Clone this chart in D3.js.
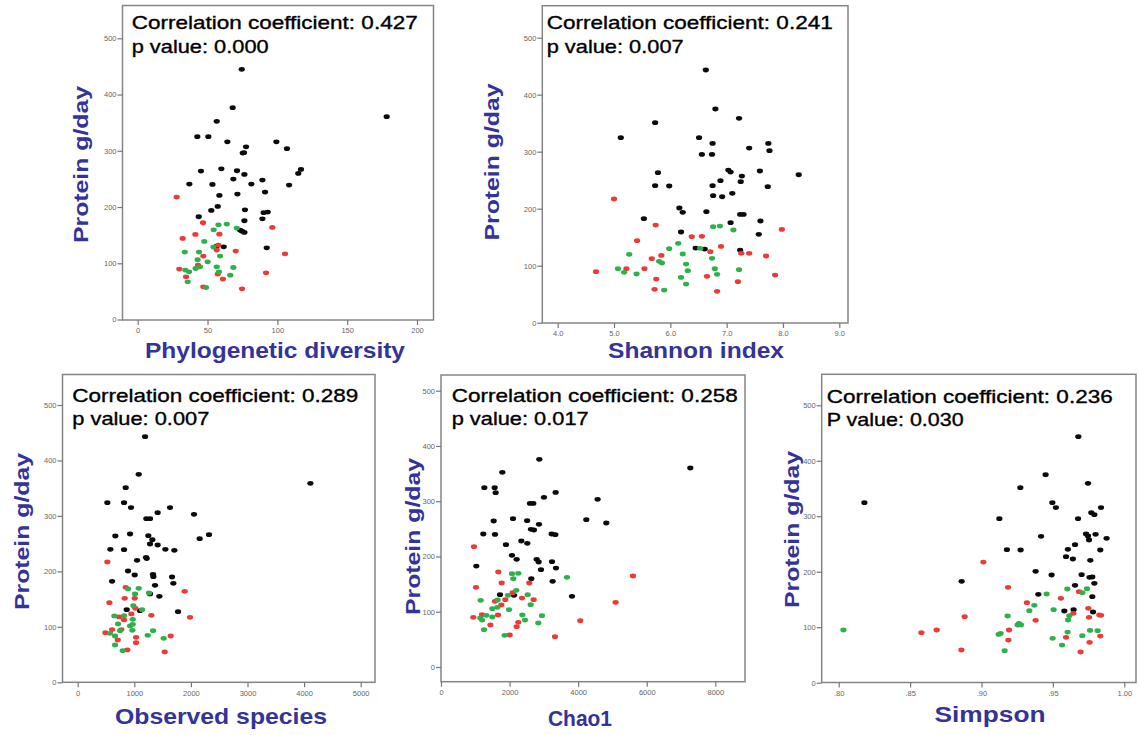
<!DOCTYPE html>
<html>
<head>
<meta charset="utf-8">
<script src="https://cdn.jsdelivr.net/npm/d3@7"></script>
<style>
  body { margin: 0; background: #fff; }
  svg { display: block; }
</style>
</head>
<body>
<svg id="chart" width="1139" height="735"></svg>
<script>
// ---- Protein intake (g/day) against gut microbiota diversity indices ----
// Each point: [index value, protein g/day]; three intake groups per panel.

const pdBlack = [[74.5,444.8],[68,376.6],[178.3,360.6],[56.6,352.3],[42.7,325],[50.6,325],[64.2,316],[77.6,307],[75.2,296],[76.1,296.6],[99.3,316],[106.9,303.7],[45.3,264],[59.9,268],[71.1,264.5],[68.5,249.7],[76.4,258],[37,240.8],[53.5,240.2],[81.4,240.8],[89.3,247.9],[115,259.8],[116.9,266.9],[108.4,239],[58.5,220.6],[71.4,223],[91.2,226.6],[52.7,194],[57.3,201],[76.8,195],[43.7,182.7],[89.3,179],[90.2,190],[93.1,191],[76.4,175.6],[73.3,159],[74.7,157],[76.4,154.8],[56.6,130.5],[61.6,129.3],[92.4,127.5]];
const pdRed = [[27.9,217.7],[46.8,172],[96.4,163.7],[32.2,144.1],[41.3,151.2],[58.5,151.8],[57.8,132.3],[70.2,121.6],[56.6,123.4],[47,112.7],[43.2,96.7],[105.5,116.8],[29.8,89.6],[34.6,75.9],[57.3,80.7],[61,71.8],[91.9,83],[47,58.1],[74.7,54.6]];
const pdGreen = [[57.8,168.4],[63.8,169.6],[70.9,162.5],[54.4,159.5],[47.7,138.8],[33.7,119.8],[43.9,119.8],[54.2,128.7],[59,112.7],[42.9,106.2],[50.1,102.6],[44.6,93.7],[41.5,90.7],[56.6,93.7],[68.5,92.5],[34.1,87.8],[36.8,84.8],[58.2,84.8],[66.3,78.9],[35.8,67],[48.9,56.9]];

const shBlack = [[6.63,443.3],[6.80,374.9],[7.22,358.5],[5.73,350.9],[5.12,324.6],[6.51,324.6],[6.75,314.6],[7.74,314.6],[7.40,306.4],[7.76,301.8],[6.56,295.3],[6.74,295.3],[5.78,263.2],[7.03,267.8],[7.07,264.3],[7.59,266.1],[7.27,257.3],[8.28,259.6],[6.89,249.1],[7.25,247.4],[5.73,240.4],[5.98,239.8],[6.75,240.4],[7.73,238.6],[6.76,222.8],[6.92,221],[7.10,226.9],[6.16,201.2],[6.22,193.6],[6.64,194.7],[7.24,190],[7.30,190],[5.53,182.5],[7.60,178.4],[7.07,175.4],[6.19,159.1],[7.57,155],[6.45,131],[6.61,129.2],[7.24,127.5]];
const shRed = [[5.0,217],[5.74,171.3],[7.98,163.7],[5.41,143.9],[6.38,150.9],[6.56,151.5],[6.90,133.9],[5.84,118.1],[5.67,112.3],[6.71,124.6],[7.26,121.6],[7.40,121.6],[7.70,117],[4.68,89.5],[5.22,94.7],[5.54,94.7],[5.75,76.6],[6.65,81.3],[7.20,71.9],[7.86,83.6],[5.72,58.5],[6.83,55]];
const shGreen = [[6.76,168.4],[6.88,169.6],[7.12,162.6],[6.14,139.2],[5.98,129.8],[6.53,130.4],[5.27,119.9],[6.22,120.5],[6.74,112.9],[5.80,107.6],[5.85,104.7],[6.28,102.9],[6.31,91.2],[5.07,94.7],[5.18,88.3],[5.40,85.4],[6.79,94.7],[7.22,93],[6.83,84.8],[6.19,79.5],[6.28,67.8],[5.89,57.3]];

const obBlack = [[1190,442.9],[1078,375],[4111,358.8],[848,351],[524,323.9],[819,323.9],[942,314.9],[1631,314.9],[1413,305.9],[2055,302.9],[1213,295.1],[1278,295.1],[665,263.8],[925,267.4],[1248,264.4],[1319,257.2],[2155,259],[2320,266.2],[1278,249.4],[1413,247.6],[577,239.8],[819,239.2],[1549,239.8],[1708,238],[1207,225.4],[1219,223],[1048,220],[889,200.7],[1007,193.5],[1331,194.7],[1337,190.5],[1667,189.9],[607,182.1],[1690,178.5],[1366,174.9],[1278,159.3],[1443,155],[866,131],[1101,129.2],[1773,127.4]];
const obRed = [[524,217],[848,171.3],[1890,164.1],[560,143.6],[830,151.4],[1007,151.4],[1301,120.8],[1985,117.2],[730,117.8],[819,112.4],[948,123.2],[1019,133.4],[489,89.5],[607,95],[771,95],[707,76.3],[1031,81.1],[1031,71.5],[1643,83.5],[877,58.3],[1537,54.7]];
const obGreen = [[889,168.3],[1078,169.5],[1260,161],[1013,159.3],[983,138.2],[1137,131],[648,119.6],[819,120.2],[972,113.6],[972,104.6],[925,101.6],[713,105.2],[748,93.1],[966,93.8],[571,88.3],[660,83.5],[1331,93.1],[1237,84.7],[1519,79.3],[660,67.3],[795,57.1]];

const chBlack = [[2867,375.8],[7271,360.1],[1789,352.2],[1264,324.5],[1565,324.5],[1594,315.4],[3344,316],[3003,307],[4568,303.4],[2595,296.1],[2692,296.1],[2100,268.4],[1536,264.2],[2512,264.8],[4238,266.6],[4821,260.6],[2858,258.1],[2624,249.1],[2711,247.9],[1234,240.7],[1575,240],[3227,240.7],[3334,239.5],[2343,228],[2517,223.8],[1895,221.4],[2070,202],[2206,194.8],[2790,194.8],[2848,190],[3237,190.6],[1030,182.7],[3353,179.1],[2916,176.1],[2634,159.8],[3256,155],[1720,130.9],[2129,129.7],[3820,127.9]];
const chRed = [[962,217.7],[1672,171.9],[5599,164.7],[1020,144.1],[1769,152],[2576,152],[2090,134.5],[2362,124.8],[2702,121.8],[1876,121.8],[1575,118.8],[1759,112.2],[5093,117],[943,89.9],[1196,94.7],[1662,94.1],[1439,76],[2255,80.8],[2206,73],[4063,83.8],[2002,57.9],[3324,54.9]];
const chGreen = [[2070,168.9],[2255,169.5],[2109,159.8],[3674,162.2],[2197,138.7],[2527,130.9],[1954,129.7],[1157,120.6],[1652,121.2],[2615,112.8],[1497,105.5],[1643,108],[1983,103.7],[1322,93.5],[1497,90.5],[2372,94.1],[2945,92.9],[1147,88.7],[1196,85],[2449,85],[2838,79.6],[1254,67.6],[1856,57.3]];

const siBlack = [[.9678,443.5],[.9449,375],[.9746,359.4],[.9272,351.6],[.8180,324.5],[.9496,324.5],[.9521,315.5],[.9837,315.5],[.9769,306.5],[.9790,302.9],[.9125,295.7],[.9676,295.7],[.9417,263.8],[.9732,268],[.9746,264.4],[.9799,267.4],[.9876,260.2],[.9753,257.2],[.9655,248.8],[.9178,239.8],[.9274,239.2],[.9605,240.4],[.9832,239.2],[.9592,227.2],[.9640,223],[.9762,220.6],[.9379,200.7],[.9491,194.1],[.9701,194.7],[.9757,189.9],[.9776,190.5],[.8861,182.7],[.9655,175.5],[.9790,179.1],[.9398,159.3],[.9776,155],[.9580,129.2],[.9645,131.6],[.9781,127.4]];
const siRed = [[.9013,217.5],[.9186,171.9],[.9683,164.1],[.9318,144.2],[.9556,152],[.9379,112.4],[.8882,119],[.9643,125],[.9748,134],[.9753,117.8],[.9825,122],[.9837,121.4],[.8579,90.1],[.8686,95],[.9193,95],[.9188,76.9],[.9592,81.7],[.9757,72.7],[.9832,84.1],[.8859,58.9],[.9694,55.3]];
const siGreen = [[.9456,159.9],[.9601,168.9],[.9739,169.5],[.9706,162.3],[.9370,139.4],[.9335,129.8],[.9505,131.6],[.9615,120.8],[.9183,120.2],[.9606,113],[.9262,107],[.9276,104],[.9253,104],[.8033,95],[.9120,87.1],[.9134,88.9],[.9603,91.3],[.9760,94.3],[.9813,93.8],[.9498,79.9],[.9706,84.7],[.9564,67.9],[.9162,57.7]];

// axis ticks
const yTicks = [0, 100, 200, 300, 400, 500];
const pdTicks = [0, 50, 100, 150, 200];
const shTicks = [4, 5, 6, 7, 8, 9];
const obTicks = [0, 1000, 2000, 3000, 4000, 5000];
const chTicks = [0, 2000, 4000, 6000, 8000];
const siTicks = [0.80, 0.85, 0.90, 0.95, 1.00];

// titles and statistics
const xTitles = ["Phylogenetic diversity", "Shannon index", "Observed species", "Chao1", "Simpson"];
const yTitle = "Protein g/day";
const coefficients = ["0.427", "0.241", "0.289", "0.258", "0.236"];
const pLabels = ["p value", "p value", "p value", "p value", "P value"];
const pValues = ["0.000", "0.007", "0.007", "0.017", "0.030"];

const colors = { black: "#0b0b0b", red: "#ee3a36", green: "#2db24b" };

// panel layout: frame box, scale anchors, label placement
const panels = [
  { frame: [122.5, 5.5, 433.5, 320], xa: [0, 200], xp: [137.7, 417], yp: [319.5, 38.3],
    ticks: pdTicks, fmt: d3.format("d"), data: [pdBlack, pdRed, pdGreen],
    stat: [131.7, 29.3], xt: [275, 358, 260], yt: [88, 164.5] },
  { frame: [542.3, 5.7, 848, 323], xa: [4, 9], xp: [557.7, 839.3], yp: [322.7, 37.7],
    ticks: shTicks, fmt: d3.format(".1f"), data: [shBlack, shRed, shGreen],
    stat: [546.7, 29.3], xt: [696, 358, 176], yt: [499, 162] },
  { frame: [62.5, 374.5, 375, 682.3], xa: [0, 5000], xp: [77.7, 360.7], yp: [682.3, 405],
    ticks: obTicks, fmt: d3.format("d"), data: [obBlack, obRed, obGreen],
    stat: [72.3, 401.7], xt: [221, 724, 212], yt: [28.5, 531.5] },
  { frame: [441, 375, 745, 681.7], xa: [0, 8000], xp: [441, 715.3], yp: [667, 390.7],
    ticks: chTicks, fmt: d3.format("d"), data: [chBlack, chRed, chGreen],
    stat: [451.7, 401.7], xt: [580, 726, 64], yt: [420, 536.5] },
  { frame: [821.7, 374.3, 1136, 682.5], xa: [0.8, 1.0], xp: [838.7, 1124.3], yp: [682.7, 405.3],
    ticks: siTicks, fmt: d => d < 1 ? d3.format(".2f")(d).replace(/^0/, "") : d3.format(".2f")(d),
    data: [siBlack, siRed, siGreen],
    stat: [826.7, 402.7], xt: [990, 722, 111], yt: [799, 529.5] }
];

const svg = d3.select("#chart");
const FONT = "'Liberation Sans', Arial, Helvetica, sans-serif";
const groupColors = [colors.black, colors.red, colors.green];

panels.forEach((p, i) => {
  const [fl, ft, fr, fb] = p.frame;
  const x = d3.scaleLinear().domain(p.xa).range(p.xp);
  const y = d3.scaleLinear().domain([0, 500]).range(p.yp);
  const g = svg.append("g");

  // frame
  g.append("rect")
    .attr("x", fl).attr("y", ft).attr("width", fr - fl).attr("height", fb - ft)
    .attr("fill", "none").attr("stroke", "#858585").attr("stroke-width", 1.5);

  // y axis
  const ya = g.append("g").attr("transform", `translate(${fl},0)`)
    .call(d3.axisLeft(y).tickValues(yTicks).tickSize(5).tickPadding(1).tickFormat(d3.format("d")));
  // x axis
  const xa = g.append("g").attr("transform", `translate(0,${fb})`)
    .call(d3.axisBottom(x).tickValues(p.ticks).tickSize(5).tickPadding(3).tickFormat(p.fmt));
  [ya, xa].forEach(a => {
    a.select(".domain").remove();
    a.selectAll(".tick line").attr("stroke", "#777").attr("stroke-width", 1.2);
    a.selectAll(".tick text").attr("fill", "#666").attr("font-size", 7.5).attr("font-family", FONT);
  });

  // points
  p.data.forEach((series, k) => {
    g.append("g").selectAll("ellipse").data(series).join("ellipse")
      .attr("cx", d => x(d[0])).attr("cy", d => y(d[1]))
      .attr("rx", 3.1).attr("ry", 2.4)
      .attr("fill", groupColors[k]);
  });

  // statistics
  const stat = g.append("g")
    .attr("font-family", FONT).attr("font-size", 18.5)
    .attr("fill", "#000").attr("stroke", "#000").attr("stroke-width", 0.35);
  stat.append("text").attr("x", p.stat[0]).attr("y", p.stat[1])
    .attr("textLength", 286).attr("lengthAdjust", "spacingAndGlyphs")
    .text(`Correlation coefficient: ${coefficients[i]}`);
  stat.append("text").attr("x", p.stat[0]).attr("y", p.stat[1] + 23.4)
    .attr("textLength", 137).attr("lengthAdjust", "spacingAndGlyphs")
    .text(`${pLabels[i]}: ${pValues[i]}`);

  // axis titles
  g.append("text").attr("x", p.xt[0]).attr("y", p.xt[1])
    .attr("text-anchor", "middle").attr("fill", "#333399")
    .attr("font-family", FONT).attr("font-size", 22).attr("font-weight", "bold")
    .attr("textLength", p.xt[2]).attr("lengthAdjust", "spacingAndGlyphs")
    .text(xTitles[i]);
  g.append("text")
    .attr("transform", `translate(${p.yt[0]},${p.yt[1]}) rotate(-90)`)
    .attr("text-anchor", "middle").attr("fill", "#333399")
    .attr("font-family", FONT).attr("font-size", 21).attr("font-weight", "bold")
    .attr("textLength", 157).attr("lengthAdjust", "spacingAndGlyphs")
    .text(yTitle);
});
</script>
</body>
</html>
